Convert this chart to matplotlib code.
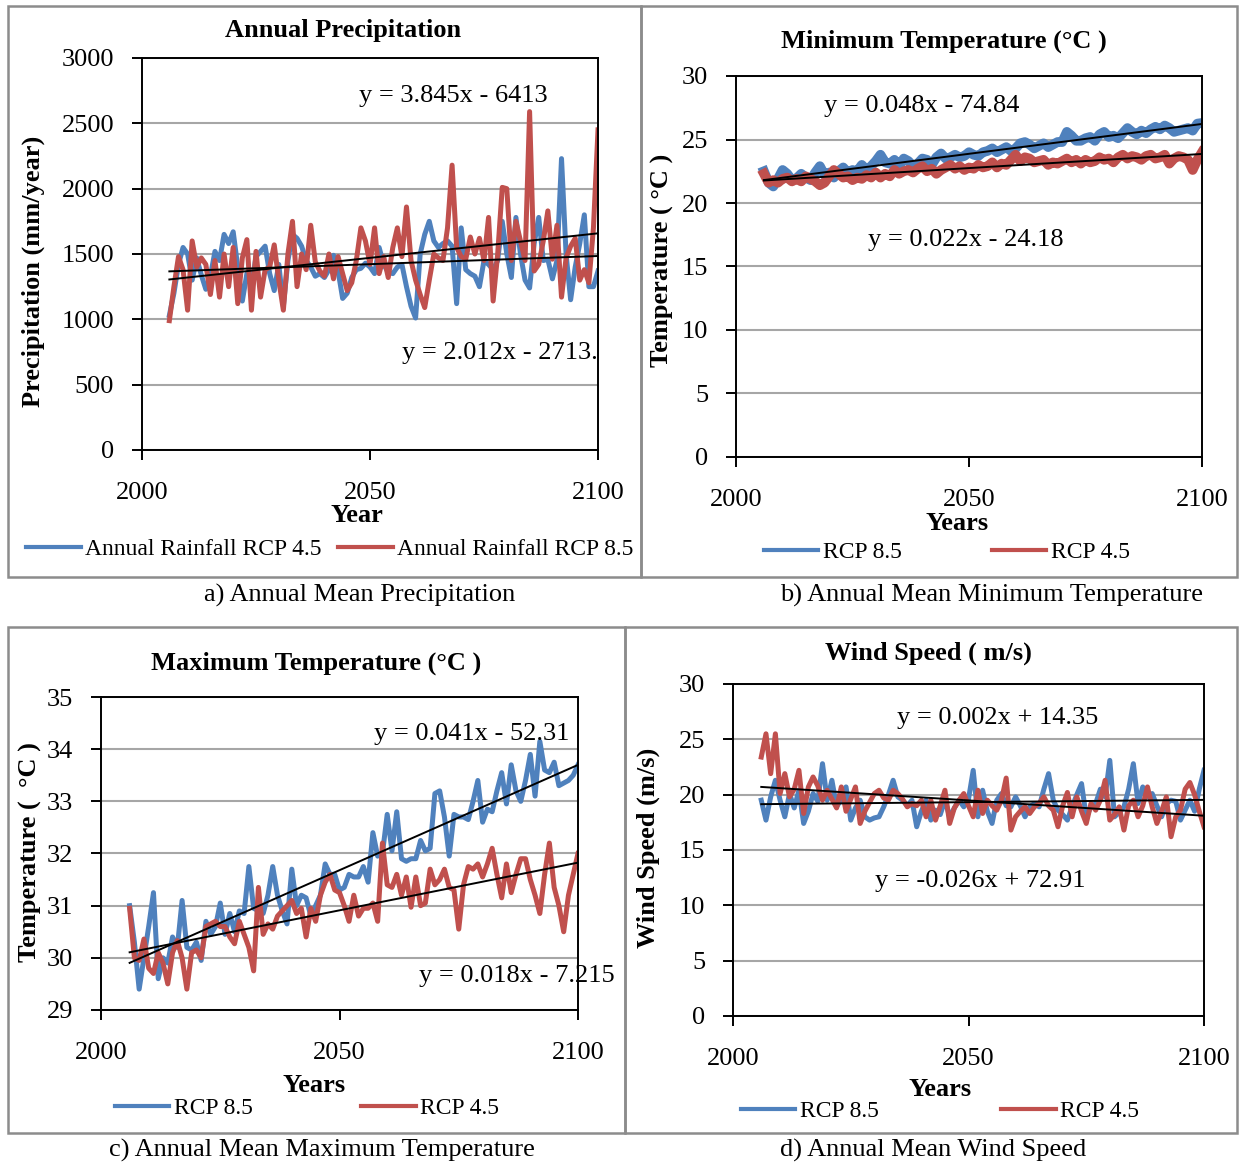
import matplotlib
matplotlib.use("Agg")
import matplotlib.pyplot as plt
import numpy as np
from matplotlib.patches import Rectangle

plt.rcParams['font.family'] = ['Liberation Serif', 'DejaVu Serif']

years = np.arange(2006, 2101)

# a) precipitation (mm/year)
precip_rcp45 = [1030, 1200, 1420, 1550, 1500, 1300, 1470, 1340, 1230, 1330,
                1520, 1450, 1650, 1580, 1670, 1400, 1140, 1350, 1250, 1480,
                1520, 1560, 1350, 1220, 1420, 1100, 1450, 1650, 1620, 1560,
                1450, 1400, 1330, 1350, 1320, 1380, 1490, 1370, 1160, 1200,
                1320, 1380, 1390, 1430, 1400, 1350, 1550, 1420, 1360, 1350,
                1400, 1420, 1250, 1100, 1010, 1500, 1650, 1750, 1600, 1550,
                1580, 1600, 1560, 1120, 1700, 1380, 1350, 1330, 1250, 1450,
                1420, 1380, 1450, 1750, 1500, 1320, 1780, 1500, 1300, 1240,
                1580, 1780, 1450, 1460, 1310, 1450, 2230, 1500, 1150, 1400,
                1580, 1800, 1250, 1250, 1370]
precip_rcp85 = [990, 1250, 1480, 1380, 1070, 1600, 1400, 1470, 1420, 1190,
                1450, 1170, 1500, 1250, 1550, 1120, 1470, 1610, 1070, 1520,
                1170, 1380, 1400, 1570, 1300, 1070, 1500, 1750, 1250, 1500,
                1380, 1720, 1440, 1370, 1330, 1500, 1310, 1480, 1350, 1220,
                1280, 1450, 1700, 1600, 1420, 1700, 1350, 1480, 1320, 1550,
                1700, 1480, 1860, 1450, 1300, 1190, 1090, 1300, 1500, 1470,
                1450, 1700, 2180, 1550, 1480, 1460, 1630, 1500, 1620, 1450,
                1780, 1140, 1500, 2010, 2000, 1450, 1750, 1600, 1450, 2590,
                1370, 1420, 1600, 1830, 1460, 1720, 1170, 1470, 1560, 1620,
                1300, 1380, 1280, 1700, 2450]

# b) minimum temperature (deg C)
tmin_rcp85 = [22.5, 21.6, 21.3, 21.9, 22.6, 22.3, 21.8, 21.95, 22.3, 22.0,
              21.8, 22.4, 22.9, 22.2, 22.4, 22.0, 22.5, 22.8, 22.4, 22.6,
              22.5, 23.0, 22.6, 22.9, 23.3, 23.8, 23.2, 23.1, 23.4, 22.9,
              23.5, 23.3, 22.9, 23.1, 23.5, 23.4, 23.0, 23.6, 23.9, 23.5,
              23.6, 23.8, 23.6, 23.7, 24.0, 23.8, 23.7, 24.0, 24.1, 24.3,
              24.0, 24.2, 24.4, 24.1, 24.3, 24.7, 24.8, 24.6, 24.3, 24.5,
              24.7, 24.4, 24.6, 24.8, 24.8, 25.6, 25.3, 24.9, 24.9, 25.1,
              25.2, 24.9, 25.4, 25.6, 25.2, 25.3, 25.1, 25.5, 25.9, 25.6,
              25.4, 25.7, 25.5, 25.8, 26.0, 25.8, 26.1, 25.9, 25.6, 25.7,
              25.8, 25.9, 25.7, 26.25, 26.3]
tmin_rcp45 = [22.3, 21.6, 21.8, 21.6, 21.9, 22.0, 21.7, 21.9, 21.7, 22.1,
              21.9, 21.7, 21.4, 21.6, 22.1, 22.6, 22.3, 22.0, 22.1, 21.8,
              22.0, 21.9, 22.2, 22.0, 22.4, 22.0, 22.3, 22.1, 22.6, 22.3,
              22.5, 22.6, 22.4, 22.7, 22.9, 22.5, 22.7, 22.3, 22.6, 22.8,
              23.0, 22.7, 22.9, 22.6, 22.8, 22.7, 23.0, 22.8, 22.9, 23.2,
              22.8, 23.1, 23.0, 23.4, 23.8, 23.3, 23.6, 23.5, 23.2, 23.3,
              23.4, 23.0, 23.2, 23.1, 23.3, 23.5, 23.2, 23.4, 23.1, 23.4,
              23.2, 23.3, 23.6, 23.4, 23.5, 23.2, 23.6, 23.8, 23.5, 23.7,
              23.6, 23.4, 23.7, 23.8, 23.5, 23.6, 23.8, 23.1, 23.5, 23.7,
              23.6, 23.4, 22.6, 23.4, 24.0]

# c) maximum temperature (deg C)
tmax_rcp85 = [31.0, 30.3, 29.4, 30.0, 30.6, 31.25, 29.6, 30.0, 29.9, 30.4,
              30.2, 31.1, 30.2, 30.15, 30.3, 29.95, 30.7, 30.45, 30.6, 31.05,
              30.45, 30.85, 30.5, 30.9, 30.85, 31.75, 30.95, 30.9, 30.85, 31.2,
              31.75, 31.2, 30.9, 30.65, 31.7, 31.0, 31.2, 31.15, 30.8, 31.0,
              31.2, 31.8, 31.6, 31.6, 31.3, 31.35, 31.6, 31.55, 31.55, 31.75,
              31.45, 32.4, 31.95, 32.0, 32.75, 32.05, 32.8, 31.9, 31.85, 31.9,
              31.9, 32.25, 32.05, 32.1, 33.15, 33.2, 32.7, 31.95, 32.75, 32.7,
              32.7, 32.65, 33.0, 33.4, 32.6, 32.85, 32.8, 33.2, 33.55, 32.95,
              33.7, 33.2, 33.0, 33.4, 33.9, 33.1, 34.15, 33.6, 33.55, 33.75,
              33.3, 33.35, 33.4, 33.5, 33.7]
tmax_rcp45 = [30.95, 30.0, 29.95, 30.36, 29.8, 29.7, 30.1, 29.9, 29.5, 30.1,
              30.33, 30.0, 29.4, 30.1, 30.15, 30.0, 30.6, 30.65, 30.7, 30.6,
              30.6, 30.4, 30.27, 30.7, 30.45, 30.2, 29.75, 31.35, 30.45, 30.65,
              30.55, 30.8, 30.9, 31.0, 31.1, 30.85, 30.95, 30.4, 30.95, 30.7,
              31.2, 31.45, 31.6, 31.3, 31.25, 31.0, 30.7, 31.2, 30.8, 30.95,
              30.95, 31.05, 30.7, 32.2, 31.4, 31.35, 31.6, 31.2, 31.55, 30.97,
              31.55, 31.0, 31.05, 31.7, 31.4, 31.5, 31.7, 31.35, 31.3, 30.55,
              31.4, 31.75, 31.7, 31.8, 31.55, 31.8, 32.1, 31.6, 31.15, 31.8,
              31.25, 31.6, 31.9, 31.9, 31.5, 31.2, 30.85, 31.6, 32.2, 31.35,
              31.0, 30.5, 31.2, 31.6, 32.0]

# d) wind speed (m/s)
wind_rcp85 = [19.5, 17.7, 19.8, 21.3, 19.5, 18.0, 20.1, 18.8, 20.4, 17.4,
              18.5, 20.1, 19.4, 22.8, 19.5, 21.3, 18.9, 19.6, 20.7, 17.7,
              18.8, 19.5, 18.0, 17.7, 17.9, 18.0, 18.9, 20.0, 21.3, 19.8,
              19.5, 19.0, 19.5, 17.1, 18.5, 19.5, 17.7, 18.6, 18.2, 19.5,
              18.0, 18.8, 19.5, 18.9, 19.6, 22.2, 18.0, 20.4, 18.5, 17.4,
              19.5, 20.1, 19.0, 18.9, 19.8, 19.0, 18.0, 18.9, 19.2, 18.9,
              20.5, 21.9, 19.5, 18.6, 18.2, 17.7, 18.9, 20.0, 21.0, 18.0,
              18.9, 19.2, 20.5, 19.8, 23.1, 18.0, 18.4, 18.9, 20.5, 22.8,
              19.2, 20.7, 19.8, 20.1, 19.0, 18.0, 19.2, 19.5, 19.4, 17.7,
              18.6, 19.5, 18.5, 20.5, 22.2]
wind_rcp45 = [23.4, 25.5, 21.9, 25.5, 20.1, 21.9, 19.8, 20.5, 22.2, 18.3,
              20.7, 21.6, 20.8, 19.5, 20.4, 19.6, 18.8, 20.7, 18.5, 19.6,
              20.7, 17.4, 18.5, 19.3, 20.1, 20.4, 19.7, 19.5, 20.4, 20.1,
              19.6, 18.9, 19.2, 19.0, 19.5, 18.0, 19.5, 17.7, 19.0, 20.4,
              17.4, 18.8, 19.5, 20.1, 19.0, 18.0, 20.4, 18.3, 19.5, 19.0,
              18.6, 19.5, 21.5, 16.8, 18.0, 18.5, 18.9, 18.3, 18.9, 19.2,
              19.8, 19.0, 18.6, 17.1, 19.0, 20.2, 18.0, 19.8, 18.5, 17.4,
              19.2, 18.6, 19.5, 21.3, 17.7, 18.2, 18.9, 16.8, 19.0, 19.5,
              18.0, 19.0, 20.7, 18.9, 17.4, 18.5, 19.8, 16.2, 18.0, 18.6,
              20.5, 21.1, 20.0, 18.5, 17.1]

BLUE = '#4F81BD'
RED = '#C0504D'
W, H = 1239, 1164

fig = plt.figure(figsize=(W / 100, H / 100), dpi=100)


def px(x, y):
    return x / W, 1 - y / H


def add_ax(l, t, r, b):
    return fig.add_axes([l / W, 1 - b / H, (r - l) / W, (b - t) / H])


def style(ax, ylim, ystep):
    ax.set_xlim(2000, 2100)
    ax.set_xticks([2000, 2050, 2100])
    ax.set_ylim(*ylim)
    ax.set_yticks(np.arange(ylim[0], ylim[1] + ystep / 2, ystep))
    ax.grid(axis='y', color='#a6a6a6', lw=1.5)
    ax.set_axisbelow(True)
    for s in ax.spines.values():
        s.set_color('black')
        s.set_linewidth(1.4)
    ax.tick_params(axis='both', direction='out', length=7, width=1.4,
                   labelsize=19)
    ax.tick_params(axis='x', pad=16)
    ax.tick_params(axis='y', pad=13)


def trend(ax, vals):
    k, c = np.polyfit(years, vals, 1)
    ax.plot(years[[0, -1]], k * years[[0, -1]] + c, color='black', lw=1.4,
            zorder=5)


def legend(ax, cx, cy, spacing):
    leg = ax.legend(loc='center', bbox_to_anchor=px(cx, cy),
                    bbox_transform=fig.transFigure, ncol=2, frameon=False,
                    fontsize=17, handlelength=2.3, handletextpad=0.2,
                    columnspacing=spacing, borderpad=0, borderaxespad=0)
    for ln in leg.get_lines():
        ln.set_linewidth(3)


def ftext(x, y, s, **kw):
    fig.text(*px(x, y), s, **kw)


# panel frames
for l, t, r, b in [(8, 6, 641, 577), (641, 6, 1237, 577),
                   (8, 627, 625, 1133), (625, 627, 1237, 1133)]:
    fig.add_artist(Rectangle(px(l, b), (r - l) / W, (b - t) / H,
                             transform=fig.transFigure, fill=False,
                             edgecolor='#8c8c8c', lw=1.8))

# a) precipitation
ax = add_ax(142, 58, 598, 450)
style(ax, (0, 3000), 500)
ax.plot(years, precip_rcp45, color=BLUE, lw=3.6, label='Annual Rainfall RCP 4.5')
ax.plot(years, precip_rcp85, color=RED, lw=3.6, label='Annual Rainfall RCP 8.5')
trend(ax, precip_rcp45)
trend(ax, precip_rcp85)
legend(ax, 330, 549, 0.7)
ftext(343, 30, 'Annual Precipitation', ha='center', va='center', fontsize=19, weight='bold')
ftext(33, 271, 'Precipitation (mm/year)', ha='center', va='center', rotation=90, fontsize=19, weight='bold')
ftext(357, 516, 'Year', ha='center', va='center', fontsize=19, weight='bold')
ftext(359, 96, 'y = 3.845x - 6413', ha='left', va='center', fontsize=19)
ftext(402, 353, 'y = 2.012x - 2713.', ha='left', va='center', fontsize=19)
ftext(360, 595, 'a) Annual Mean Precipitation', ha='center', va='center', fontsize=19)

# b) minimum temperature
ax = add_ax(736, 76, 1202, 457)
style(ax, (0, 30), 5)
ax.plot(years, tmin_rcp85, color=BLUE, lw=7, label='RCP 8.5')
ax.plot(years, tmin_rcp45, color=RED, lw=7, label='RCP 4.5')
trend(ax, tmin_rcp85)
trend(ax, tmin_rcp45)
legend(ax, 947, 552, 3.8)
ftext(944, 41, 'Minimum Temperature (°C )', ha='center', va='center', fontsize=19, weight='bold')
ftext(662, 260, 'Temperature ( °C )', ha='center', va='center', rotation=90, fontsize=19, weight='bold')
ftext(957, 524, 'Years', ha='center', va='center', fontsize=19, weight='bold')
ftext(824, 106, 'y = 0.048x - 74.84', ha='left', va='center', fontsize=19)
ftext(868, 240, 'y = 0.022x - 24.18', ha='left', va='center', fontsize=19)
ftext(992, 595, 'b) Annual Mean Minimum Temperature', ha='center', va='center', fontsize=19)

# c) maximum temperature
ax = add_ax(101, 697, 578, 1010)
style(ax, (29, 35), 1)
ax.plot(years, tmax_rcp85, color=BLUE, lw=3.6, label='RCP 8.5')
ax.plot(years, tmax_rcp45, color=RED, lw=3.6, label='RCP 4.5')
trend(ax, tmax_rcp85)
trend(ax, tmax_rcp45)
legend(ax, 307, 1108, 4.6)
ftext(316, 663, 'Maximum Temperature (°C )', ha='center', va='center', fontsize=19, weight='bold')
ftext(30, 852, 'Temperature (  °C )', ha='center', va='center', rotation=90, fontsize=19, weight='bold')
ftext(314, 1085, 'Years', ha='center', va='center', fontsize=19, weight='bold')
ftext(374, 734, 'y = 0.041x - 52.31', ha='left', va='center', fontsize=19)
ftext(419, 976, 'y = 0.018x - 7.215', ha='left', va='center', fontsize=19)
ftext(322, 1150, 'c) Annual Mean Maximum Temperature', ha='center', va='center', fontsize=19)

# d) wind speed
ax = add_ax(733, 684, 1204, 1016)
style(ax, (0, 30), 5)
ax.plot(years, wind_rcp85, color=BLUE, lw=3.6, label='RCP 8.5')
ax.plot(years, wind_rcp45, color=RED, lw=3.6, label='RCP 4.5')
trend(ax, wind_rcp85)
trend(ax, wind_rcp45)
legend(ax, 940, 1111, 5.2)
ftext(928, 653, 'Wind Speed ( m/s)', ha='center', va='center', fontsize=19, weight='bold')
ftext(648, 848, 'Wind Speed (m/s)', ha='center', va='center', rotation=90, fontsize=19, weight='bold')
ftext(940, 1089, 'Years', ha='center', va='center', fontsize=19, weight='bold')
ftext(897, 718, 'y = 0.002x + 14.35', ha='left', va='center', fontsize=19)
ftext(875, 881, 'y = -0.026x + 72.91', ha='left', va='center', fontsize=19)
ftext(933, 1150, 'd) Annual Mean Wind Speed', ha='center', va='center', fontsize=19)

fig.savefig('out.png', dpi=100, facecolor='white')
